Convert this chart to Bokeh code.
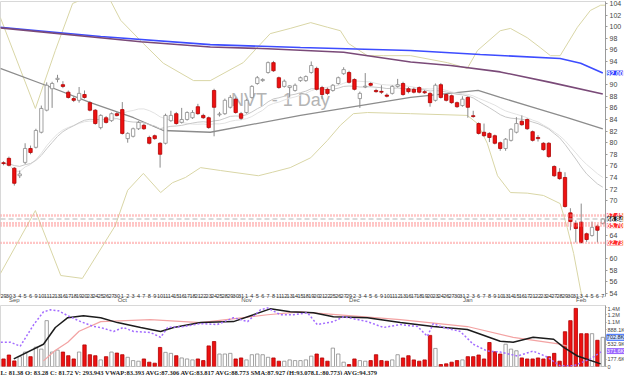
import pandas as pd
from bokeh.plotting import figure
from bokeh.models import Range1d, LinearAxis, FixedTicker, Label, Span, ColumnDataSource, Title
from bokeh.layouts import column
from bokeh.embed import file_html
from bokeh.resources import INLINE

# ---------------- data ----------------
day_labels = [29, 30,
              3, 4, 5, 6, 9, 10, 11, 12, 13, 16, 17, 18, 19, 20, 23, 24, 25, 26, 27, 30,
              1, 2, 3, 4, 7, 8, 9, 10, 11, 14, 15, 16, 17, 18, 21, 22, 23, 24, 25, 28, 29, 30, 31,
              1, 4, 5, 6, 7, 8, 11, 12, 13, 14, 15, 18, 19, 20, 21, 22, 25, 26, 27, 29,
              2, 3, 4, 5, 6, 9, 10, 11, 12, 13, 16, 17, 18, 19, 20, 23, 24, 26, 27, 30, 31,
              2, 3, 6, 7, 8, 9, 10, 13, 14, 15, 16, 17, 21, 22, 23, 24, 27, 28, 29, 30, 31,
              3, 4, 5, 6, 7]
month_names = ["Sep", "Oct", "Nov", "Dec", "Jan", "Feb"]
month_pos = [2, 22, 45, 65, 86, 107]

opens = [76.5, 77.3, 75.6, 74.3, 76.6, 79.0, 79.2, 81.8, 85.6, 89.3,
         90.9, 90.0, 88.7, 87.6, 87.3, 88.3, 86.9, 85.6, 82.6, 84.3,
         83.8, 85.0, 85.7, 80.7, 81.1, 82.4, 83.0, 80.9, 81.2, 79.9,
         79.9, 83.8, 85.0, 83.5, 84.0, 84.3, 86.2, 84.7, 84.3, 89.0,
         84.8, 85.0, 86.1, 87.5, 85.0, 85.2, 87.8, 90.2, 90.7, 92.1,
         93.8, 91.2, 89.7, 89.5, 89.0, 90.7, 90.7, 92.1, 92.8, 89.5,
         89.2, 89.0, 90.2, 91.9, 92.1, 90.9, 87.6, 89.6, 90.2, 89.0,
         88.8, 88.2, 88.5, 89.7, 90.2, 89.3, 89.2, 89.5, 88.8, 88.5,
         87.3, 90.0, 88.3, 88.1, 86.9, 86.4, 87.8, 84.6, 83.3, 81.8,
         81.6, 81.2, 80.0, 79.0, 80.4, 81.8, 83.7, 84.0, 81.9, 80.9,
         79.9, 79.9, 75.9, 74.9, 74.0, 67.9, 66.1, 66.3, 64.3, 64.0,
         65.6, 66.1]
highs = [76.8, 77.6, 75.8, 75.2, 79.9, 79.5, 82.4, 86.4, 90.4, 90.5,
         91.7, 90.6, 89.0, 88.0, 89.6, 89.0, 87.2, 85.8, 84.9, 84.6,
         85.2, 85.3, 87.0, 81.8, 82.6, 83.7, 83.3, 81.2, 81.4, 80.1,
         85.0, 85.5, 85.3, 86.0, 85.4, 85.6, 86.7, 85.0, 84.5, 89.3,
         85.3, 87.6, 88.2, 87.8, 85.3, 87.5, 89.9, 91.5, 91.1, 94.0,
         94.1, 91.4, 90.9, 89.9, 90.2, 91.4, 91.6, 94.0, 93.1, 89.8,
         89.5, 90.1, 91.4, 93.0, 92.4, 91.1, 88.8, 92.0, 90.4, 89.3,
         89.9, 88.5, 89.9, 91.0, 90.5, 89.6, 89.5, 89.7, 89.1, 88.7,
         90.2, 90.3, 88.5, 88.3, 87.1, 88.0, 88.0, 85.5, 83.5, 83.3,
         81.8, 81.4, 80.2, 80.8, 82.5, 84.4, 84.7, 84.2, 82.1, 81.3,
         80.1, 80.1, 76.1, 75.6, 74.9, 68.7, 66.6, 69.5, 64.5, 66.4,
         65.9, 67.0]
lows = [76.1, 75.9, 72.6, 73.9, 76.3, 78.0, 79.0, 81.6, 85.4, 86.0,
        90.4, 89.4, 87.6, 87.0, 86.9, 87.6, 85.4, 83.1, 82.3, 83.3,
        83.6, 84.5, 81.4, 80.0, 80.9, 82.2, 82.2, 79.7, 80.5, 75.7,
        79.7, 83.6, 83.1, 83.3, 83.8, 84.1, 84.8, 84.1, 82.4, 81.1,
        84.5, 84.8, 85.9, 85.0, 83.9, 85.0, 87.6, 90.0, 90.5, 91.9,
        92.2, 89.3, 89.5, 87.8, 88.8, 90.5, 90.5, 91.9, 89.0, 87.5,
        88.2, 88.8, 90.0, 91.7, 90.2, 89.0, 86.0, 89.4, 89.7, 88.6,
        88.4, 87.8, 88.3, 89.5, 88.1, 88.5, 88.5, 88.5, 88.4, 86.2,
        87.1, 87.6, 87.1, 86.7, 86.0, 86.2, 84.3, 84.3, 81.4, 81.0,
        80.1, 79.7, 78.6, 78.6, 80.2, 81.6, 82.9, 82.2, 80.2, 80.2,
        78.6, 77.4, 74.1, 73.6, 68.8, 64.9, 62.8, 62.6, 62.9, 63.8,
        62.8, 65.9]
closes = [76.4, 76.1, 73.0, 74.6, 79.0, 78.3, 82.1, 85.9, 89.9, 90.2,
          91.1, 89.7, 87.8, 87.3, 88.5, 87.8, 85.6, 83.3, 84.7, 83.5,
          85.0, 84.7, 81.6, 81.6, 82.4, 83.5, 82.4, 79.9, 80.7, 78.0,
          84.7, 84.7, 83.3, 84.0, 85.2, 85.2, 85.0, 84.3, 82.6, 86.1,
          84.9, 87.3, 87.8, 85.2, 84.2, 87.3, 89.7, 91.2, 90.9, 93.8,
          92.4, 89.5, 90.6, 89.8, 89.9, 91.2, 91.4, 93.3, 89.2, 88.3,
          88.5, 89.9, 91.2, 92.6, 90.4, 89.2, 88.5, 89.7, 89.9, 88.8,
          88.7, 88.0, 89.7, 90.0, 88.3, 88.8, 88.7, 88.7, 88.6, 86.9,
          89.9, 87.8, 87.3, 86.9, 86.2, 87.5, 86.1, 84.5, 81.6, 81.2,
          80.9, 79.9, 79.0, 80.6, 82.3, 83.3, 83.1, 82.4, 80.4, 80.7,
          78.8, 77.6, 74.3, 73.8, 69.0, 66.4, 65.2, 62.8, 63.3, 65.4,
          64.9, 66.84]
volumes_k = [182, 277, 135, 237, 348, 237, 466, 419, 1105, 348,
             395, 348, 260, 182, 348, 521, 284, 260, 159, 237,
             348, 324, 284, 222, 142, 128, 182, 104, 80, 459,
             341, 317, 260, 206, 182, 159, 182, 142, 497, 601,
             301, 301, 317, 182, 206, 159, 284, 301, 284, 222,
             206, 128, 128, 159, 142, 142, 159, 250, 301, 206,
             128, 443, 301, 104, 47, 182, 142, 128, 142, 284,
             142, 128, 159, 284, 206, 260, 159, 128, 159, 750,
             436, 47, 64, 104, 142, 159, 237, 237, 277, 182,
             578, 355, 301, 537, 419, 379, 206, 182, 182, 206,
             182, 237, 317, 128, 838, 1105, 1400, 791, 791, 791,
             632, 703]

# long moving averages
sma200_i = [-0.6, 18, 38.3, 55, 75.4, 88.3, 103.1, 106.9, 111]
sma200_v = [99.9, 98.3, 96.9, 96.4, 95.9, 95.2, 94.5, 93.7, 92.0]
sma100_i = [-0.6, 25.4, 38.3, 48.9, 63, 75.4, 82.8, 92, 101.3, 111]
sma100_v = [99.8, 97.4, 96.5, 96.2, 95.6, 93.9, 93.3, 92.2, 90.4, 88.4]
sma50_i = [-0.6, 7.8, 16.1, 24.1, 29.6, 38.3, 55, 75.4, 87.9, 92, 98.1, 104.4, 111]
sma50_v = [92.8, 89.9, 86.9, 84.3, 82.1, 81.8, 84.7, 87.8, 89.0, 87.8, 86.1, 84.3, 82.4]

# bollinger bands
bb_up_i = [-0.6, 5.9, 9.6, 12.8, 16.1, 19.8, 21.7, 25.9, 29.6, 35.2, 38.3, 44.4, 49.4, 53.1,
           56.9, 60, 62.4, 63.9, 67.4, 70.4, 75.4, 82.2, 85.9, 87.8, 92, 93.9, 97, 99.4,
           101.3, 103.1, 106.3, 108.7, 110.6, 111.5]
bb_up_v = [101.6, 85.9, 95.9, 104.0, 105.3, 104.5, 101.1, 97.1, 93.7, 90.7, 90.7, 93.8, 98.8, 99.7,
           100.7, 99.9, 99.3, 97.1, 95.0, 95.0, 95.0, 93.8, 92.8, 95.9, 99.3, 99.7, 98.1, 96.4,
           95.0, 95.0, 99.9, 102.8, 103.7, 103.7]
bb_lo_i = [-0.6, 5.9, 10.6, 14.6, 20.7, 23, 25.9, 29.1, 31.3, 33.7, 36.5, 40.2, 47.2, 49.8,
           53.1, 56.9, 60, 62.4, 64.8, 67.4, 75.4, 85.9, 87.8, 89.6, 91.5, 93.9, 97, 100,
           103.1, 104.4, 105.6, 106.9, 108, 111.5]
bb_lo_v = [57.4, 68.3, 57.1, 56.6, 65.7, 71.8, 74.7, 71.4, 73.1, 74.0, 75.7, 75.2, 74.3, 74.9,
           75.7, 77.4, 80.4, 83.0, 85.0, 85.2, 85.0, 84.7, 83.3, 79.9, 74.3, 71.4, 71.3, 70.9,
           69.5, 65.4, 60.9, 54.5, 49.3, 42.4]

# support / resistance levels
level_prices = [67.45, 66.10, 65.70, 62.73]
last_price = 66.84

# volume-panel indicator lines (thousands)
vb_i = [1.9, 7.4, 9.6, 11.9, 14.8, 18, 21.1, 25.4, 29.1, 31.5, 36.5, 42.6, 46.3, 49.4, 53.1,
        57.4, 61.1, 67.4, 73.5, 79.6, 85.9, 92, 94.4, 98.1, 101.9, 103.7, 106.3, 110.6]
vb_v = [182, 537, 940, 1176, 1224, 1176, 1058, 940, 845, 940, 1058, 1082, 1247, 1389, 1318,
        1295, 1200, 1176, 1058, 963, 892, 608, 585, 703, 656, 466, 253, 64]
vp_i = [7.4, 9.5, 11.9, 14, 18, 27.2, 36.5, 48.9, 55, 73.5, 85.9, 94.4, 103.1, 104.4]
vp_v = [135, 380, 585, 850, 1082, 1129, 1058, 1247, 1318, 1129, 963, 703, 537, 490]
vu_i = [-0.5, 1.3, 3.1, 5.6, 7.4, 8.7, 10.2, 11.9, 14.3, 16.7, 18, 20.4, 22.2, 24.1, 27.2,
        29.1, 30.4, 33.3, 36.5, 39.6, 42.6, 45.2, 47.6, 48.9, 51.3, 53.7, 56.3, 58.1, 61.1,
        63, 67.4, 70.4, 73.5, 76.7, 78.5, 79.6, 81.5, 84.6, 87, 89.6, 92, 95.2, 98.1, 100.7,
        103.1, 105.6, 108.7, 110.9]
vu_v = [585, 585, 490, 1011, 1318, 1366, 1342, 1224, 1082, 963, 940, 845, 940, 845, 821,
        703, 940, 963, 1034, 1011, 1176, 1082, 1366, 1413, 1247, 1247, 1295, 1011, 1082,
        1200, 1082, 940, 1011, 963, 727, 1034, 940, 845, 537, 372, 348, 253, 372, 230,
        17, 17, 182, 372]

price_ticks = [54, 56, 58, 60, 64, 70, 72, 74, 76, 78, 80, 82, 84, 86, 88, 90, 94, 96, 98, 100, 102, 104]
vol_ticks = [0, 177.6e3, 532.9e3, 888.1e3, 1.0657e6, 1.2433e6, 1.4209e6]
vol_tick_labels = ["0", "177.6K", "532.9K", "888.1K", "1.1M", "1.2M", "1.4M"]

info_text = ("L: 81.38   O: 83.28   C: 81.72   V: 293,943   VWAP:83.393   AVG:87.306   AVG:83.817   "
             "AVG:88.773   SMA:87.927   (H:93.078,L:80.773)   AVG:94.379")

# ---------------- derived ----------------
n = len(closes)
idx = list(range(n))
up = [c >= o for o, c in zip(opens, closes)]
body_lo = [min(o, c) for o, c in zip(opens, closes)]
body_hi = [max(max(o, c), min(o, c) + 0.15) for o, c in zip(opens, closes)]
fill = ["#ffffff" if u else "#ee1111" for u in up]
edge = ["#8a8a8a" if u else "#b00000" for u in up]
cs = pd.Series(closes)
sma20 = cs.rolling(20, min_periods=1).mean().tolist()
ema20 = cs.ewm(span=20, adjust=False).mean().tolist()

src = ColumnDataSource(dict(x=idx, lo=lows, hi=highs, blo=body_lo, bhi=body_hi, fill=fill, edge=edge,
                            vol=[v * 1000 for v in volumes_k]))

xr = Range1d(-0.56, 111.5)
FONT = "Liberation Sans"

# ---------------- price panel ----------------
p = figure(frame_width=605, frame_height=295, x_range=xr, y_range=Range1d(53.48, 104.34),
           output_backend="svg", toolbar_location=None, y_axis_location="right",
           min_border_left=0, min_border_top=1, min_border_right=19, min_border_bottom=0,
           outline_line_color="#d8d8d8")
p.grid.visible = False

ya = p.yaxis[0]
ya.ticker = FixedTicker(ticks=price_ticks)
ya.major_label_text_font_size = "7px"
ya.major_label_text_color = "#444444"
ya.major_label_text_font = FONT
ya.major_label_standoff = 2
ya.major_tick_out = 2
ya.major_tick_in = 0
ya.minor_tick_line_color = None
ya.axis_line_color = "#9a9a9a"
ya.major_tick_line_color = "#9a9a9a"

xa = p.xaxis[0]
xa.ticker = FixedTicker(ticks=idx)
xa.major_label_overrides = {i: str(d) for i, d in enumerate(day_labels)}
xa.major_label_text_font_size = "5.5px"
xa.major_label_text_color = "#333333"
xa.major_label_standoff = -3
xa.major_tick_out = 0
xa.major_tick_in = 0
xa.major_tick_line_color = None
xa.minor_tick_line_color = None
xa.minor_tick_out = 0
xa.axis_line_color = None

ma = LinearAxis(ticker=FixedTicker(ticks=month_pos),
                major_label_overrides={m: s for m, s in zip(month_pos, month_names)},
                major_label_text_font_size="6px", major_label_text_color="#555555",
                major_label_standoff=-4, major_tick_out=0, major_tick_in=0, minor_tick_out=0,
                major_tick_line_color=None, minor_tick_line_color=None, axis_line_color=None)
p.add_layout(ma, "below")

p.add_layout(Label(x=51.3, y=87.3, text="NVT - 1 Day", text_font_size="18px", text_color="#b4b4b4",
                   text_align="center", text_baseline="middle", text_font=FONT, level="underlay"))

p.line(bb_up_i, bb_up_v, line_color="#d9d6a6", line_width=1)
p.line(bb_lo_i, bb_lo_v, line_color="#d9d6a6", line_width=1)
p.line(sma200_i, sma200_v, line_color="#3d4cff", line_width=1.6)
p.line(sma100_i, sma100_v, line_color="#7a4a78", line_width=1.6)
p.line(sma50_i, sma50_v, line_color="#8c8c8c", line_width=1.3)
p.line(idx, sma20, line_color="#e2e2e2", line_width=1)
p.line(idx, ema20, line_color="#c8c8c8", line_width=1)

for lv in level_prices:
    p.add_layout(Span(location=lv, dimension="width", line_color="#ff8080", line_width=2.4,
                      line_dash="1 2", line_alpha=0.9))
p.add_layout(Span(location=last_price, dimension="width", line_color="#b5b5b5", line_width=1.2,
                  line_dash="5 3"))

p.segment(x0="x", y0="lo", x1="x", y1="hi", source=src, line_color="#8a8a8a", line_width=1)
p.vbar(x="x", bottom="blo", top="bhi", width=0.62, source=src, fill_color="fill", line_color="edge",
       line_width=0.8)

boxes = [(92.00, "92.00", "#2b3cff", "#ffffff"),
         (67.45, "67.45", "#ff2a2a", "#ffffff"),
         (65.70, "65.70", "#ff2a2a", "#ffffff"),
         (62.73, "62.73", "#ff2a2a", "#ffffff"),
         (66.84, "66.84", "#1a1a1a", "#ffffff")]
for yv, txt, bg, fg in boxes:
    p.add_layout(Label(x=111.75, y=yv, text=txt, text_font_size="6.5px", text_color=fg,
                       text_baseline="middle", text_align="left", text_font=FONT,
                       background_fill_color=bg, text_font_style="bold"), "right")

# ---------------- volume panel ----------------
pv = figure(frame_width=605, frame_height=61, x_range=xr, y_range=Range1d(0, 1.47e6),
            output_backend="svg", toolbar_location=None, y_axis_location="right",
            x_axis_location=None, min_border_left=0, min_border_top=0, min_border_right=19,
            min_border_bottom=0, outline_line_color="#d8d8d8")
pv.grid.visible = False
va = pv.yaxis[0]
va.ticker = FixedTicker(ticks=vol_ticks)
va.major_label_overrides = {t: s for t, s in zip(vol_ticks, vol_tick_labels)}
va.major_label_text_font_size = "5.5px"
va.major_label_text_color = "#444444"
va.major_label_standoff = 1
va.major_tick_out = 1
va.major_tick_in = 0
va.minor_tick_line_color = None
va.axis_line_color = "#9a9a9a"
va.major_tick_line_color = "#9a9a9a"

pv.vbar(x="x", top="vol", bottom=0, width=0.62, source=src, fill_color="fill", line_color="edge",
        line_width=0.8)
pv.line(vp_i, [v * 1000 for v in vp_v], line_color="#f3a3a3", line_width=1.2)
pv.line(vb_i, [v * 1000 for v in vb_v], line_color="#1c1c1c", line_width=1.5)
pv.line(vu_i, [v * 1000 for v in vu_v], line_color="#a36cff", line_width=1.5, line_dash="2 2")

pv.add_layout(Label(x=111.75, y=702.8e3, text="702.8K", text_font_size="5.5px", text_color="#102040",
                    text_baseline="middle", text_font=FONT, background_fill_color="#cfe0ff",
                    border_line_color="#3a6cff"), "right")
pv.add_layout(Label(x=111.75, y=372e3, text="371.6K", text_font_size="5.5px", text_color="#ffffff",
                    text_baseline="middle", text_font=FONT, background_fill_color="#9a66ff"), "right")
pv.add_layout(Title(text=info_text, align="left", text_font_size="6.5px", text_color="#222222",
                    text_font="Liberation Serif", text_font_style="bold", standoff=0, offset=0), "below")

layout = column(p, pv, spacing=0)
open("out.html", "w").write(file_html(layout, INLINE))
